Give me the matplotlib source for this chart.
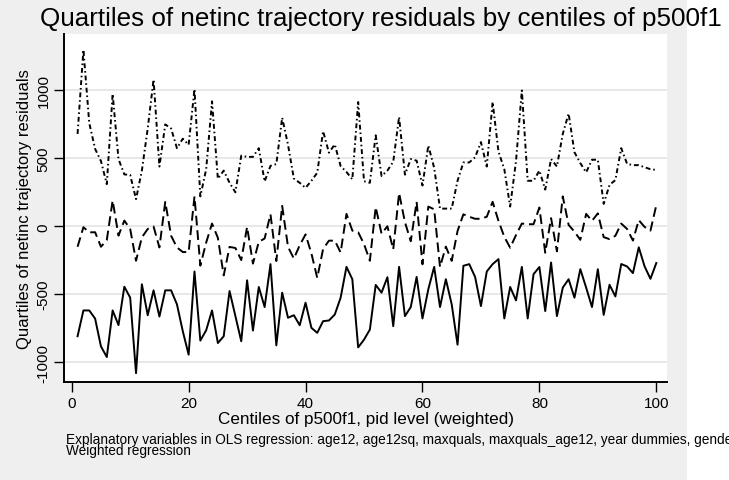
import numpy as np
import matplotlib
matplotlib.use('Agg')
import matplotlib.pyplot as plt
from matplotlib.patches import Rectangle

plt.rcParams['font.family'] = ['Liberation Sans', 'DejaVu Sans']

centile = list(range(1, 101))

# 25th percentile (solid)
p25 = [-810, -620, -620, -680, -885, -963, -620, -728, -445, -526,
       -1082, -427, -655, -472, -665, -472, -472, -575, -773, -946,
       -333, -842, -766, -620, -860, -810, -477, -662, -847, -398,
       -768, -447, -595, -279, -877, -489, -674, -655, -729, -563,
       -748, -785, -699, -694, -650, -526, -299, -390, -892, -835,
       -761, -432, -489, -375, -736, -299, -662, -595, -373, -679,
       -464, -299, -595, -390, -575, -872, -291, -279, -373, -588,
       -333, -279, -242, -679, -447, -546, -299, -679, -353, -300,
       -625, -267, -662, -452, -390, -526, -316, -452, -595, -316,
       -653, -431, -517, -278, -296, -345, -155, -296, -387, -271]

# median (dashed)
p50 = [-151, -7, -45, -44, -151, -101, 190, -69, 42, -20,
       -254, -82, -20, -2, -156, 180, -70, -156, -190, -190,
       220, -290, -120, 20, -85, -362, -152, -160, -249, -5,
       -275, -115, -90, 88, -256, 150, -152, -238, -140, -60,
       -200, -380, -168, -106, -106, -193, 91, -32, -44, -131,
       -254, 141, -55, 0, -170, 245, 30, -110, 180, -280,
       145, 125, -300, -150, -255, -35, 88, 70, 55, 55,
       70, 180, 40, -78, -158, -65, 20, 15, 15, 138,
       -195, 60, -185, 220, 10, -40, -100, 91, 40, 95,
       -80, -95, -70, 20, -20, -105, 45, -5, -32, 155]

# 75th percentile (dash-dot)
p75 = [680, 1300, 760, 570, 480, 310, 975, 495, 382, 378,
       200, 410, 720, 1080, 440, 750, 720, 575, 645, 600,
       1010, 220, 420, 920, 350, 410, 320, 250, 520, 511,
       511, 575, 330, 445, 458, 800, 600, 351, 320, 283,
       335, 394, 700, 542, 603, 443, 400, 345, 915, 332,
       320, 670, 370, 410, 475, 805, 380, 495, 483, 300,
       595, 430, 130, 130, 130, 335, 470, 470, 508, 620,
       440, 915, 550, 420, 145, 480, 1000, 335, 335, 410,
       270, 495, 440, 680, 830, 545, 465, 397, 490, 490,
       165, 305, 340, 575, 460, 450, 450, 435, 420, 415]

xticks = [0, 20, 40, 60, 80, 100]
yticks = [-1000, -500, 0, 500, 1000]

W, H = 729, 481
fig = plt.figure(figsize=(W / 100, H / 100), dpi=100)
fig.patch.set_facecolor('white')
# stata graph region (grey) does not reach the right edge
fig.add_artist(Rectangle((0, 0), 687 / W, 1, transform=fig.transFigure,
                         facecolor='#efefef', edgecolor='none', zorder=0))

left, right, top, bottom = 64.3, 667, 35, 383
ax = fig.add_axes([left / W, 1 - bottom / H, (right - left) / W, (bottom - top) / H])
ax.set_facecolor('white')

ax.plot(centile, p25, color='black', lw=1.4, ls='-')
ax.plot(centile, p50, color='black', lw=1.4, ls=(0, (5, 2.5)))
ax.plot(centile, p75, color='black', lw=1.4, ls=(0, (2.5, 1.5, 0.8, 1.5)))

ax.set_xlim(-1.27, 101.83)
ax.set_ylim(-1147, 1416)
ax.set_xticks(xticks)
ax.set_yticks(yticks)
ax.set_yticklabels([str(v) for v in yticks], rotation=90, va='center')
ax.tick_params(axis='both', direction='out', length=7, width=1, labelsize=11, pad=3)
ax.grid(True, axis='y', color='#e4e4e4', lw=1.2)
ax.set_axisbelow(True)
for s in ['top', 'right']:
    ax.spines[s].set_visible(False)
for s in ['left', 'bottom']:
    ax.spines[s].set_linewidth(1.4)

ax.set_xlabel('Centiles of p500f1, pid level (weighted)', fontsize=12.3, labelpad=1)
ax.set_ylabel('Quartiles of netinc trajectory residuals', fontsize=12, labelpad=3)

fig.text(40 / W, 1 - 26 / H, 'Quartiles of netinc trajectory residuals by centiles of p500f1',
         fontsize=18.7, ha='left', va='baseline')
fig.text(66 / W, 1 - 440 / H,
         'Explanatory variables in OLS regression: age12, age12sq, maxquals, maxquals_age12, year dummies, gender',
         fontsize=9.8, ha='left', va='center')
fig.text(66 / W, 1 - 451 / H, 'Weighted regression', fontsize=9.8, ha='left', va='center')

fig.savefig('out.png', dpi=100)
